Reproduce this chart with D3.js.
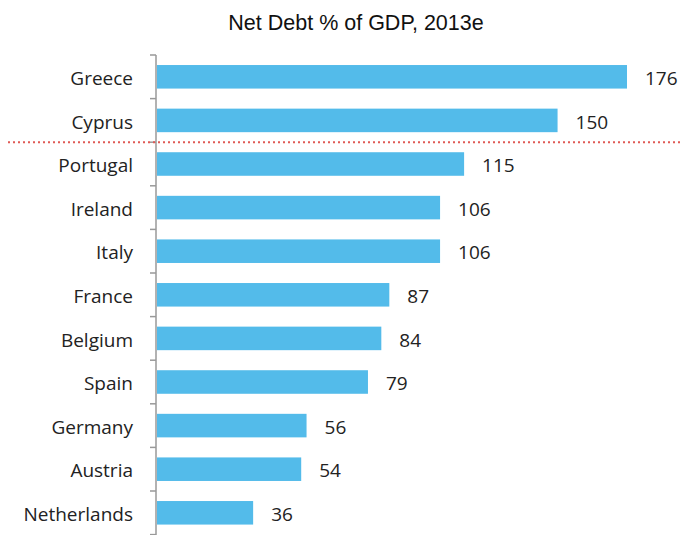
<!DOCTYPE html>
<html>
<head>
<meta charset="utf-8">
<script src="https://cdn.jsdelivr.net/npm/d3@7"></script>
<style>
  body { margin: 0; background: #fff; }
  svg { display: block; }
</style>
</head>
<body>
<svg id="chart"></svg>
<script>
var countries = ["Greece", "Cyprus", "Portugal", "Ireland", "Italy", "France", "Belgium", "Spain", "Germany", "Austria", "Netherlands"];
var netDebt = [176, 150, 115, 106, 106, 87, 84, 79, 56, 54, 36];
var title = "Net Debt % of GDP, 2013e";

var width = 691;
var height = 535;
var margin = {top: 55, left: 156, right: 40, bottom: 0};
var labelFont = "'Open Sans', Lato, sans-serif";

var svg = d3.select("#chart")
    .attr("width", width)
    .attr("height", height);

svg.append("text")
    .attr("x", 356)
    .attr("y", 30)
    .attr("text-anchor", "middle")
    .style("font-family", "'Liberation Sans', Arial, sans-serif")
    .style("font-size", "21.5px")
    .style("fill", "#111")
    .text(title);

var data = countries.map((c, i) => ({name: c, value: netDebt[i]}));

var x = d3.scaleLinear()
    .domain([0, 176])
    .range([margin.left + 1, 627]);

var y = d3.scaleBand()
    .domain(countries)
    .range([margin.top, margin.top + 43.6 * countries.length])
    .paddingInner(0.46)
    .paddingOuter(0.23);

// bars
svg.append("g")
    .selectAll("rect")
    .data(data)
    .join("rect")
        .attr("x", x(0))
        .attr("y", d => y(d.name))
        .attr("width", d => x(d.value) - x(0))
        .attr("height", y.bandwidth())
        .attr("fill", "#53bbea");

// category axis, ticks sit on the band edges
var axisG = svg.append("g");
axisG.append("line")
    .attr("x1", margin.left).attr("x2", margin.left)
    .attr("y1", margin.top).attr("y2", height)
    .attr("stroke", "#999")
    .attr("stroke-width", 1.5);

var bounds = d3.range(countries.length + 1).map(i => margin.top + y.step() * i);
axisG.selectAll(".tk")
    .data(bounds)
    .join("line")
        .attr("class", "tk")
        .attr("x1", margin.left - 6).attr("x2", margin.left)
        .attr("y1", d => d).attr("y2", d => d)
        .attr("stroke", "#999")
        .attr("stroke-width", 1.5);

axisG.selectAll(".lbl")
    .data(countries)
    .join("text")
        .attr("class", "lbl")
        .attr("x", 133)
        .attr("y", d => y(d) + y.bandwidth() / 2 + 1.5)
        .attr("dy", "0.35em")
        .attr("text-anchor", "end")
        .style("font-family", labelFont)
        .style("font-size", "19px")
        .style("fill", "#222")
        .text(d => d);

// value labels
svg.append("g")
    .selectAll("text")
    .data(data)
    .join("text")
        .attr("x", d => x(d.value) + 18)
        .attr("y", d => y(d.name) + y.bandwidth() / 2 + 1.5)
        .attr("dy", "0.35em")
        .style("font-family", labelFont)
        .style("font-size", "19px")
        .style("fill", "#222")
        .text(d => d.value);

// dotted separator under Cyprus
var sepY = margin.top + y.step() * 2;
svg.append("line")
    .attr("x1", 8).attr("x2", 682)
    .attr("y1", sepY).attr("y2", sepY)
    .attr("stroke", "#e05a55")
    .attr("stroke-width", 2)
    .attr("stroke-dasharray", "2,3");
</script>
</body>
</html>
